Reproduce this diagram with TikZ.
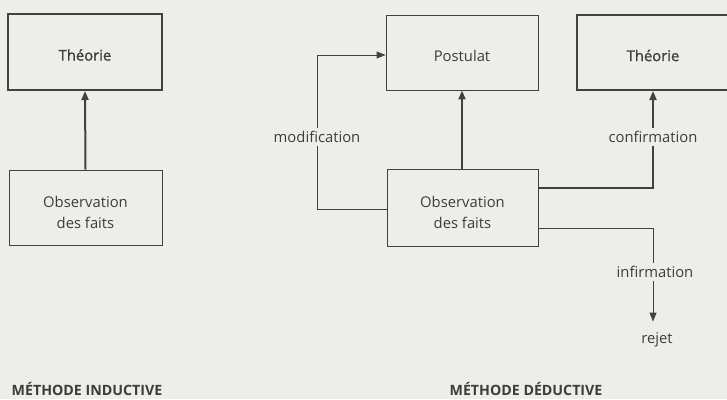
\documentclass[tikz,border=0pt]{standalone}
\usepackage{fontspec}
\setmainfont{Open Sans}
\newfontfamily\semibf[FakeBold=1.2]{Open Sans}
\usetikzlibrary{arrows.meta,positioning,calc}
\definecolor{bg}{RGB}{237,237,234}
\definecolor{ink}{RGB}{60,60,60}
\definecolor{linec}{RGB}{65,65,65}
\begin{document}
\begin{tikzpicture}[x=1pt,y=-1pt,
  font=\fontsize{14.8}{21}\selectfont,
  boxthin/.style={draw=linec,line width=0.9pt,inner sep=0pt,fill=bg},
  boxthick/.style={draw=linec,line width=2pt,inner sep=0pt,fill=bg},
  boxtext/.style={text=ink,align=center,inner sep=0pt},
  tip/.style={-{Triangle[length=9pt,width=7pt]}},
  thickline/.style={draw=linec,line width=2pt},
  thinline/.style={draw=linec,line width=0.9pt},
  lab/.style={fill=bg,text=ink,inner sep=3pt},
  title/.style={text=ink,font=\fontsize{14.2}{16}\selectfont\bfseries}
]
\useasboundingbox[fill=bg] (0,0) rectangle (727,399);
% boxes
\node[boxthick,minimum width=154pt,minimum height=76pt] (thL) at (85,52) {};
\node[boxthin,minimum width=153pt,minimum height=75pt] (obsL) at (85.5,207.5) {};
\node[boxthin,minimum width=152pt,minimum height=75pt] (post) at (462,52.5) {};
\node[boxthick,minimum width=152pt,minimum height=75pt] (thR) at (653,52.5) {};
\node[boxthin,minimum width=151pt,minimum height=77pt] (obsR) at (462.5,207.5) {};
% box texts
\node[boxtext,font=\fontsize{14.8}{21}\semibf] (thLt) at ([yshift=-3pt]thL.center) {Théorie};
\node[boxtext] (obsLt) at ([yshift=-5pt]obsL.center) {Observation\\des faits};
\node[boxtext] (postt) at ([yshift=-3pt]post.center) {Postulat};
\node[boxtext,font=\fontsize{14.8}{21}\semibf] (thRt) at ([yshift=-3pt]thR.center) {Théorie};
\node[boxtext] (obsRt) at ([yshift=-5pt]obsR.center) {Observation\\des faits};
% other texts
\node[text=ink,inner sep=2pt] (rejet) at (657,340) {rejet};
\node[title] (ind) at (87,389) {MÉTHODE INDUCTIVE};
\node[title] (ded) at (526,389) {MÉTHODE DÉDUCTIVE};
% coordinates
\coordinate (mA) at (317,209);
\coordinate (mB) at (317,55);
\coordinate (cA) at (653,188);
\coordinate (iA) at (653,228);
% connectors
\draw[thickline,tip] (obsL.north) -- (thL.south);
\draw[thickline,tip] (obsR.north -| post.south) -- (post.south);
\draw[thinline,tip] (obsR.west |- mA) -- (mA) -- (mB) -- (post.west |- mB);
\node[lab] (modif) at (317,137) {modification};
\draw[thickline,tip] (obsR.east |- cA) -- (cA) -- (thR.south);
\node[lab] (conf) at (653,137) {confirmation};
\draw[thinline,tip] (obsR.east |- iA) -- (iA) -- ($(rejet.north)+(-4,-9)$);
\node[lab] (infir) at (655,272) {infirmation};
\end{tikzpicture}
\end{document}
